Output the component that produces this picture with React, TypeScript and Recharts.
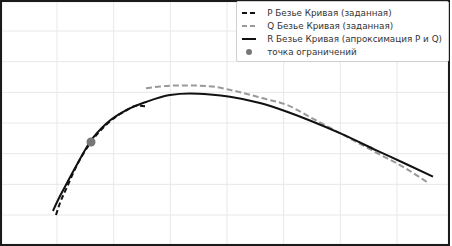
import React from 'react';
import { ComposedChart, Line, Scatter, XAxis, YAxis, CartesianGrid } from 'recharts';

// points (grid units)
const pCurve = [
  { x: 0.982, y: 1.001 }, { x: 1.053, y: 1.392 }, { x: 1.177, y: 1.914 },
  { x: 1.335, y: 2.566 }, { x: 1.6, y: 3.381 }, { x: 1.882, y: 3.968 },
  { x: 2.235, y: 4.425 }, { x: 2.412, y: 4.571 }, { x: 2.588, y: 4.539 },
];

const qCurve = [
  { x: 2.571, y: 5.132 }, { x: 2.818, y: 5.191 }, { x: 3.082, y: 5.223 },
  { x: 3.347, y: 5.223 }, { x: 3.647, y: 5.207 }, { x: 4.141, y: 5.044 },
  { x: 4.635, y: 4.806 }, { x: 5.059, y: 4.588 }, { x: 5.464, y: 4.196 },
  { x: 6.012, y: 3.652 }, { x: 6.647, y: 3.023 }, { x: 7.141, y: 2.534 },
  { x: 7.529, y: 2.077 },
];

const rCurve = [
  { x: 0.929, y: 1.132 }, { x: 1.018, y: 1.49 }, { x: 1.141, y: 1.924 },
  { x: 1.348, y: 2.631 }, { x: 1.582, y: 3.381 }, { x: 1.877, y: 3.991 },
  { x: 2.23, y: 4.425 }, { x: 2.583, y: 4.695 }, { x: 2.994, y: 4.914 },
  { x: 3.347, y: 4.963 }, { x: 3.7, y: 4.93 }, { x: 4.053, y: 4.858 },
  { x: 4.582, y: 4.653 }, { x: 5.059, y: 4.369 }, { x: 5.464, y: 4.082 },
  { x: 6.012, y: 3.652 }, { x: 6.647, y: 3.101 }, { x: 7.141, y: 2.68 },
  { x: 7.635, y: 2.25 },
];

const constraintPoint = [{ x: 1.6, y: 3.381 }];

const xTicks = [1, 2, 3, 4, 5, 6, 7];
const yTicks = [1, 2, 3, 4, 5, 6, 7];

const legendItems = [
  { label: 'P Безье Кривая (заданная)', kind: 'dash', color: '#111' },
  { label: 'Q Безье Кривая (заданная)', kind: 'dash', color: '#999' },
  { label: 'R Безье Кривая (апроксимация P и Q)', kind: 'solid', color: '#111' },
  { label: 'точка ограничений', kind: 'dot', color: '#777' },
];

const LegendBox = () => (
  <div
    style={{
      position: 'absolute',
      top: -1,
      right: -1,
      background: '#fff',
      border: '1px solid #d0d0d0',
      borderRadius: 2,
      padding: '4px 6px 3px 3px',
      fontFamily: '"DejaVu Sans", sans-serif',
      fontSize: 8.8,
      color: '#333',
    }}
  >
    {legendItems.map((it) => (
      <div key={it.label} style={{ display: 'flex', alignItems: 'center', height: 13 }}>
        <svg width={27} height={10} style={{ flex: 'none' }}>
          {it.kind === 'dot' ? (
            <circle cx={9} cy={5} r={3} fill={it.color} />
          ) : (
            <line
              x1={2}
              y1={5}
              x2={16}
              y2={5}
              stroke={it.color}
              strokeWidth={2}
              strokeDasharray={it.kind === 'dash' ? '5 3' : undefined}
            />
          )}
        </svg>
        <span style={{ whiteSpace: 'nowrap' }}>{it.label}</span>
      </div>
    ))}
  </div>
);

export default function App() {
  return (
    <div
      style={{
        width: 450,
        height: 246,
        border: '2px solid #1a1a1a',
        boxSizing: 'border-box',
        background: '#fff',
        position: 'relative',
      }}
    >
      <style>{'body{margin:0}'}</style>
      <ComposedChart width={446} height={242} margin={{ top: 0, right: 0, left: 0, bottom: 0 }}>
        <CartesianGrid stroke="#e8e8e8" strokeWidth={1} />
        <XAxis type="number" dataKey="x" domain={[0.0295, 7.9]} ticks={xTicks} hide allowDataOverflow />
        <YAxis type="number" dataKey="y" domain={[0.056, 7.946]} ticks={yTicks} hide allowDataOverflow />
        <Line
          data={pCurve}
          dataKey="y"
          type="monotone"
          stroke="#111"
          strokeWidth={2}
          strokeDasharray="5 3"
          dot={false}
          isAnimationActive={false}
        />
        <Line
          data={qCurve}
          dataKey="y"
          type="monotone"
          stroke="#999"
          strokeWidth={2}
          strokeDasharray="6 3"
          dot={false}
          isAnimationActive={false}
        />
        <Line
          data={rCurve}
          dataKey="y"
          type="monotone"
          stroke="#111"
          strokeWidth={2}
          dot={false}
          isAnimationActive={false}
        />
        <Scatter data={constraintPoint} dataKey="y" fill="#777" isAnimationActive={false} />
      </ComposedChart>
      <LegendBox />
    </div>
  );
}
